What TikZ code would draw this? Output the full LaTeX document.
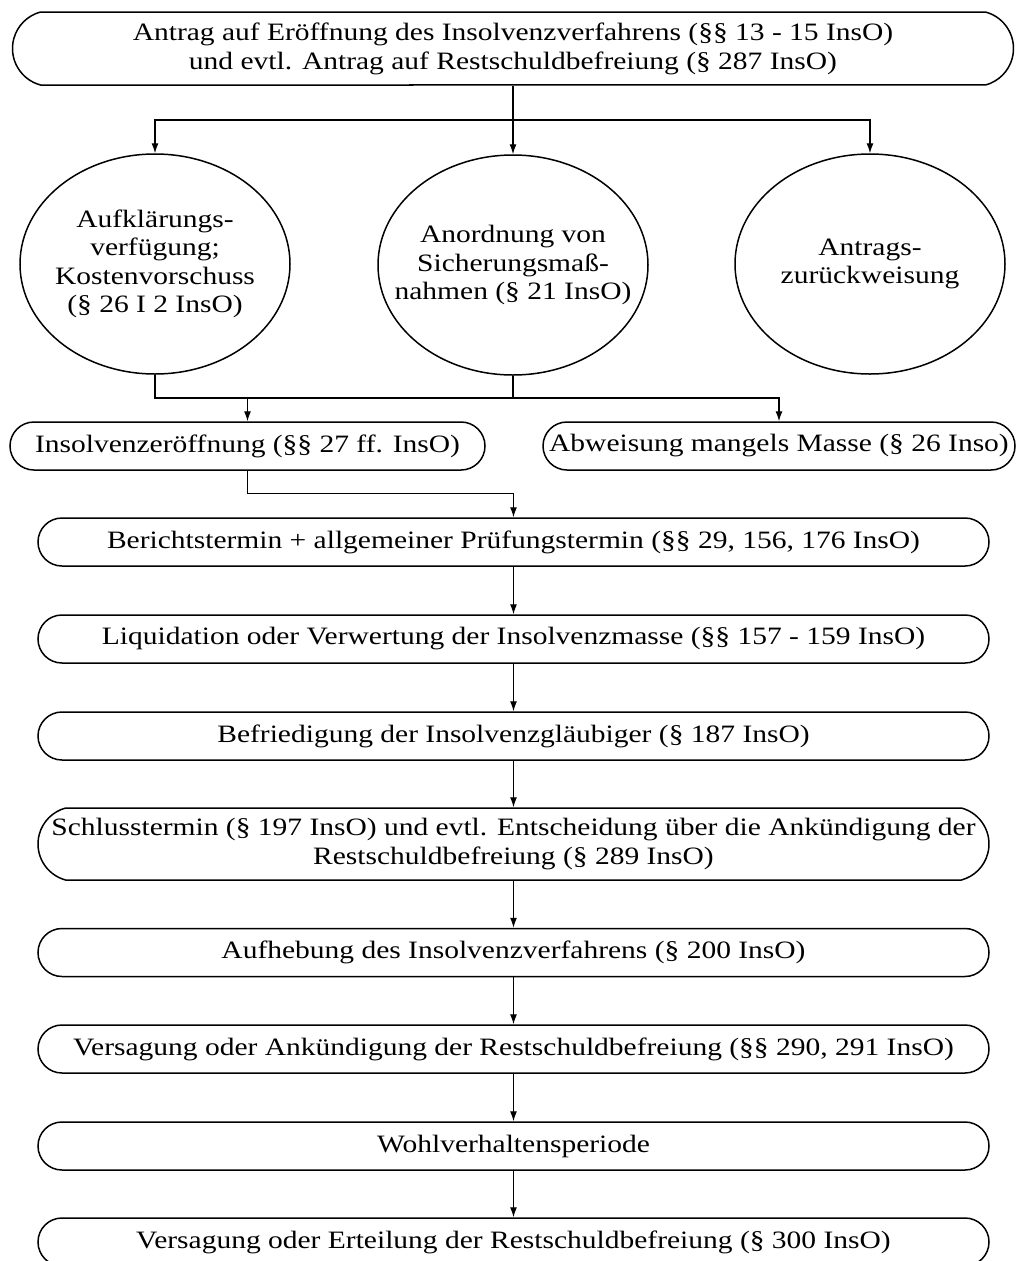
\documentclass[tikz,border=0pt]{standalone}
\usepackage{fontspec}
\setmainfont[FakeStretch=1.18]{Liberation Serif}
\usetikzlibrary{shapes.geometric,shapes.misc,arrows.meta}

\begin{document}
\begin{tikzpicture}[x=1pt,y=-1pt,
    box/.style={draw,rounded rectangle,line width=1.5pt,minimum height=48pt,
      inner sep=0pt,align=center,font=\fontsize{25}{29}\selectfont},
    oval/.style={draw,ellipse,line width=1.5pt,minimum width=270pt,minimum height=220pt,
      inner ysep=0pt,inner xsep=-40pt,align=center,font=\fontsize{25}{28.5}\selectfont},
    arr/.style={-{Latex[length=10pt,width=7pt]},line width=1.2pt},
    lin/.style={line width=1.2pt}]
  \useasboundingbox (0,0) rectangle (1016,1261);

  % Antrag
  \node[box,minimum width=1001pt,minimum height=73pt,rounded rectangle arc length=150] (antrag) at (513,48.5)
    {Antrag auf Eröffnung des Insolvenzverfahrens (§§ 13 - 15 InsO)\\
     und evtl. Antrag auf Restschuldbefreiung (§ 287 InsO)};

  % Vorverfahren
  \node[oval] (aufkl) at (155,264) {Aufklärungs-\\verfügung;\\Kostenvorschuss\\(§ 26 I 2 InsO)};
  \node[oval] (sicher) at (513,265) {Anordnung von\\Sicherungsmaß-\\nahmen (§ 21 InsO)};
  \node[oval] (zurueck) at (870,264)
    {\raisebox{-10pt}{\begin{tabular}{@{}c@{}}Antrags-\\zurückweisung\end{tabular}}};

  % Entscheidung
  \node[box,minimum width=475pt] (eroeff) at (247.5,446) {Insolvenzeröffnung (§§ 27 ff. InsO)};
  \node[box,minimum width=472pt] (abweis) at (779,446) {Abweisung mangels Masse (§ 26 Inso)};

  % Verfahren
  \node[box,minimum width=951pt] (bericht) at (513.5,542)
    {Berichtstermin + allgemeiner Prüfungstermin (§§ 29, 156, 176 InsO)};
  \node[box,minimum width=951pt] (liquid) at (513.5,639)
    {Liquidation oder Verwertung der Insolvenzmasse (§§ 157 - 159 InsO)};
  \node[box,minimum width=951pt] (befried) at (513.5,736)
    {Befriedigung der Insolvenzgläubiger (§ 187 InsO)};
  \node[box,minimum width=951pt,minimum height=72pt,rounded rectangle arc length=150] (schluss) at (513.5,844)
    {Schlusstermin (§ 197 InsO) und evtl. Entscheidung über die Ankündigung der\\
     Restschuldbefreiung (§ 289 InsO)};
  \node[box,minimum width=951pt] (aufheb) at (513.5,952.5)
    {Aufhebung des Insolvenzverfahrens (§ 200 InsO)};
  \node[box,minimum width=951pt] (versag) at (513.5,1049)
    {Versagung oder Ankündigung der Restschuldbefreiung (§§ 290, 291 InsO)};
  \node[box,minimum width=951pt] (wohl) at (513.5,1146) {Wohlverhaltensperiode};
  \node[box,minimum width=951pt] (erteil) at (513.5,1242)
    {Versagung oder Erteilung der Restschuldbefreiung (§ 300 InsO)};

  % Verbindungen
  \coordinate (verteil) at (513,120);
  \coordinate (sammel) at (513,398);
  \draw[arr] (antrag.south) -- (sicher.north);
  \draw[arr] (verteil) -| (aufkl.north);
  \draw[arr] (verteil) -| (zurueck.north);
  \draw[lin] (aufkl.south) |- (sammel);
  \draw[lin] (sicher.south) -- (sammel);
  \draw[arr] (sammel) -| (abweis.north);
  \draw[arr] (eroeff.north |- sammel) -- (eroeff.north);
  \draw[arr] (eroeff.south) -- ++(0,23) -| (bericht.north);
  \foreach \a/\b in {bericht/liquid,liquid/befried,befried/schluss,schluss/aufheb,
                     aufheb/versag,versag/wohl,wohl/erteil}
    \draw[arr] (\a.south) -- (\b.north);

\end{tikzpicture}
\end{document}
